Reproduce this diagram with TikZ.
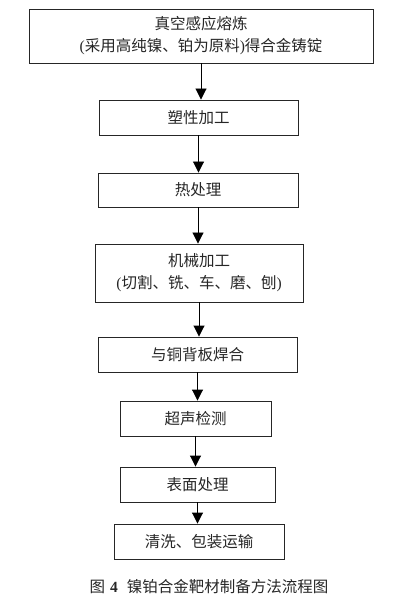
\documentclass[tikz,border=0pt]{standalone}
\usepackage{fontspec}
\setmainfont{Liberation Serif}
\newfontfamily\cjk{Noto Sans CJK SC}
\usetikzlibrary{arrows.meta}
\begin{document}
\begin{tikzpicture}[x=1pt,y=-1pt,
  stepbox/.style={draw=black!85,line width=0.9pt,inner sep=0pt,align=center,
    font=\fontsize{15.5}{22}\selectfont\cjk,text=black!85},
  arr/.style={line width=0.9pt,-{Triangle[width=11pt,length=11pt]}}]
\useasboundingbox (0,0) rectangle (403,609);
\node[stepbox,minimum width=344pt,minimum height=54pt] (b1) at (201,36)
  {真空感应熔炼\\{\rmfamily(}采用高纯镍、铂为原料{\rmfamily)}得合金铸锭};
\node[stepbox,minimum width=199pt,minimum height=35pt] (b2) at (198.5,117.5) {塑性加工};
\node[stepbox,minimum width=200pt,minimum height=34pt] (b3) at (198,190) {热处理};
\node[stepbox,minimum width=208pt,minimum height=58pt] (b4) at (199,273)
  {机械加工\\{\rmfamily(}切割、铣、车、磨、刨{\rmfamily)}};
\node[stepbox,minimum width=199pt,minimum height=35pt] (b5) at (197.5,354.5) {与铜背板焊合};
\node[stepbox,minimum width=151pt,minimum height=35pt] (b6) at (195.5,418.5) {超声检测};
\node[stepbox,minimum width=155pt,minimum height=35pt] (b7) at (197.5,484.5) {表面处理};
\node[stepbox,minimum width=170pt,minimum height=35pt] (b8) at (199,541.5) {清洗、包装运输};
\node[font=\fontsize{15.5}{18}\selectfont,text=black!85] (cap) at (209,587)
  {{\cjk 图}\hspace{5pt}\textbf{4}\hspace{9pt}{\cjk 镍铂合金靶材制备方法流程图}};
\draw[arr] (b1.south) -- (b1.south |- b2.north);
\draw[arr] (b2.south) -- (b2.south |- b3.north);
\draw[arr] (b3.south) -- (b3.south |- b4.north);
\draw[arr] (b4.south) -- (b4.south |- b5.north);
\draw[arr] (b5.south) -- (b5.south |- b6.north);
\draw[arr] (b6.south) -- (b6.south |- b7.north);
\draw[arr] (b7.south) -- (b7.south |- b8.north);
\end{tikzpicture}
\end{document}
